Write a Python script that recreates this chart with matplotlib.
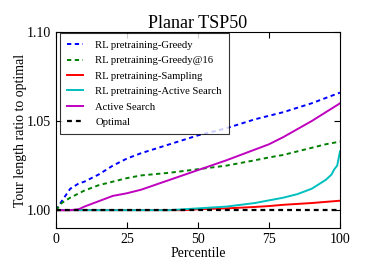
import matplotlib
matplotlib.use("Agg")
import matplotlib.pyplot as plt

# percentiles and tour length ratios
greedyPct = [0, 2, 5, 8, 10, 15, 20, 25, 30, 40, 50, 60, 70, 75, 80, 90, 95, 100]
greedy = [1.000, 1.005, 1.012, 1.015, 1.016, 1.020, 1.025, 1.029, 1.032, 1.037, 1.042,
          1.046, 1.051, 1.053, 1.055, 1.060, 1.063, 1.066]

greedy16Pct = [0, 2, 5, 10, 15, 20, 25, 30, 40, 50, 60, 70, 75, 80, 90, 95, 100]
greedy16 = [1.000, 1.004, 1.007, 1.011, 1.014, 1.016, 1.018, 1.0195, 1.021, 1.023,
            1.025, 1.028, 1.0296, 1.031, 1.035, 1.037, 1.0385]

samplingPct = [0, 45, 50, 60, 70, 75, 80, 90, 100]
sampling = [1.000, 1.000, 1.0005, 1.001, 1.0018, 1.0023, 1.003, 1.004, 1.0053]

rlActivePct = [0, 40, 45, 50, 60, 70, 75, 80, 85, 90, 95, 97, 98, 99, 100]
rlActive = [1.000, 1.000, 1.0005, 1.001, 1.002, 1.004, 1.0055, 1.007, 1.009, 1.012,
            1.017, 1.020, 1.023, 1.025, 1.033]

activePct = [0, 5, 8, 10, 15, 20, 25, 30, 40, 50, 60, 70, 75, 80, 90, 95, 100]
active = [1.000, 1.000, 1.0005, 1.002, 1.005, 1.008, 1.0095, 1.0115, 1.017, 1.0225,
          1.028, 1.034, 1.037, 1.041, 1.050, 1.055, 1.060]

optimalPct = [0, 100]
optimal = [1.0, 1.0]

plt.rcParams['font.family'] = ['Liberation Serif', 'DejaVu Serif']
plt.rcParams['mathtext.fontset'] = 'stix'

fig = plt.figure(figsize=(3.66, 2.74), dpi=100)
ax = fig.add_axes([0.153, 0.168, 0.776, 0.715])

lw = 1.4
dash = (2.2, 1.8)
ax.plot(greedyPct, greedy, 'b--', lw=lw, dashes=dash, label='RL pretraining-Greedy')
ax.plot(greedy16Pct, greedy16, 'g--', lw=lw, dashes=dash, label='RL pretraining-Greedy@16')
ax.plot(samplingPct, sampling, 'r-', lw=lw, label='RL pretraining-Sampling')
ax.plot(rlActivePct, rlActive, 'c-', lw=lw, label='RL pretraining-Active Search')
ax.plot(activePct, active, 'm-', lw=lw, label='Active Search')
ax.plot(optimalPct, optimal, 'k--', lw=1.6, dashes=dash, label='Optimal')

ax.set_xlim(0, 100)
ax.set_ylim(0.99, 1.10)
ax.set_xticks([0, 25, 50, 75, 100])
ax.set_yticks([1.00, 1.05, 1.10])
ax.set_yticklabels(['1.00', '1.05', '1.10'])
ax.tick_params(direction='in', top=True, right=True, labelsize=10, length=4)

ax.set_title('Planar TSP50', fontsize=13, pad=3)
ax.set_xlabel('Percentile', fontsize=10, labelpad=1)
ax.set_ylabel('Tour length ratio to optimal', fontsize=10, labelpad=0)

leg = ax.legend(loc='upper left', fontsize=7.7, frameon=True, fancybox=False,
                handlelength=1.5, handletextpad=1.1, borderaxespad=0.1,
                borderpad=0.7, labelspacing=0.55, bbox_to_anchor=(0.01, 1.0))
leg.get_frame().set_edgecolor('black')
leg.get_frame().set_linewidth(0.8)

fig.savefig('out.png', dpi=100)
